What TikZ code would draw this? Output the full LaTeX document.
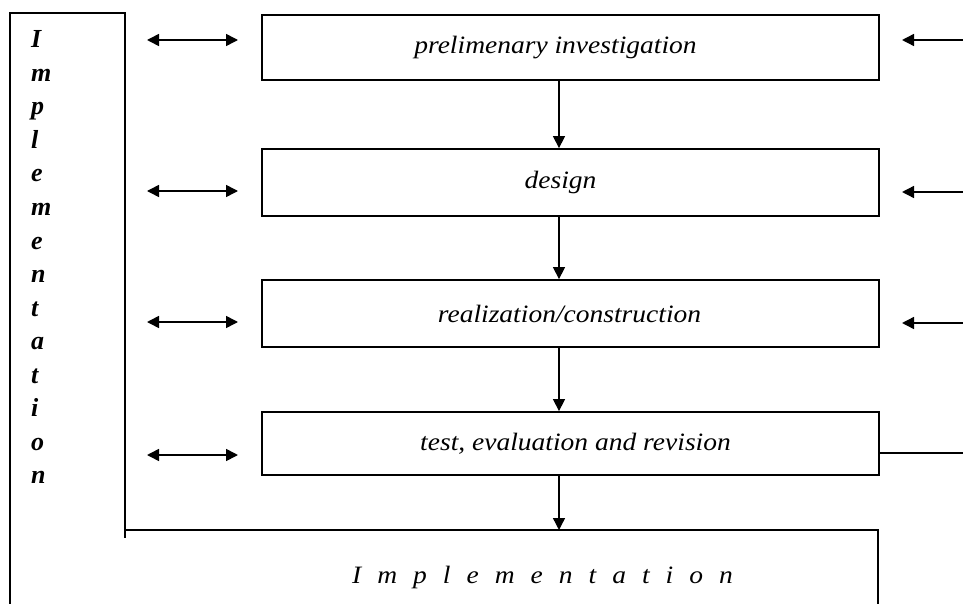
\documentclass[tikz,border=0pt]{standalone}
\usepackage{fontspec}
\setmainfont{Liberation Serif}
\newfontfamily\boxfont[FakeStretch=1.1]{Liberation Serif}
\usetikzlibrary{arrows.meta}
\newcommand\lsp{\hspace{16pt}}
\begin{document}
\begin{tikzpicture}[x=1pt,y=-1pt,
  stepbox/.style={draw, line width=1.8pt, minimum width=617pt, inner sep=0pt,
    font=\boxfont\itshape\fontsize{25}{25}\selectfont},
  flow/.style={line width=1.4pt, -{Triangle[length=12pt,width=12pt]}},
  both/.style={line width=1.6pt, {Triangle[length=12pt,width=12pt]}-{Triangle[length=12pt,width=12pt]}},
  frame/.style={line width=1.8pt},
  plain/.style={line width=1.4pt},
  vletter/.style={anchor=base west, inner sep=0pt,
    font=\bfseries\itshape\fontsize{26}{26}\selectfont}]
\useasboundingbox[fill=white] (0,0) rectangle (963,604);

% boxes
\node[stepbox, minimum height=65pt] (b1) at (570.5,47.5) {\hspace*{-30pt}prelimenary investigation};
\node[stepbox, minimum height=67pt] (b2) at (570.5,182.5) {\hspace*{-20pt}design};
\node[stepbox, minimum height=67pt] (b3) at (570.5,313.5) {\hspace*{-2pt}realization/construction};
\node[stepbox, minimum height=63pt] (b4) at (570.5,443.5) {test, evaluation and revision\hspace*{-10pt}};

% frame of Implementation
\draw[frame] (10,604) -- (10,13) -- (125,13) -- (125,538);
\draw[frame] (125,530) -- (878,530) -- (878,604);

% vertical letters
\foreach \l [count=\i from 0] in {I,m,p,l,e,m,e,n,t,a,t,i,o,n}
  \node[vletter] (v\i) at (31,48+33.5*\i) {\l};

% bottom label
\node[anchor=base, inner sep=0pt, font=\boxfont\itshape\fontsize{25}{25}\selectfont] (impl) at (542.5,583)
  {I\lsp m\lsp p\lsp l\lsp e\lsp m\lsp e\lsp n\lsp t\lsp a\lsp t\lsp i\lsp o\lsp n};

% down arrows
\coordinate (ax) at (559,0);
\coordinate (itop) at (559,530);
\draw[flow] (b1.south -| ax) -- (b2.north -| ax);
\draw[flow] (b2.south -| ax) -- (b3.north -| ax);
\draw[flow] (b3.south -| ax) -- (b4.north -| ax);
\draw[flow] (b4.south -| ax) -- (itop);

% left double arrows
\foreach \y [count=\k] in {40,191,322,455} {
  \coordinate (la\k) at (147,\y);
  \coordinate (lb\k) at (238,\y);
  \draw[both] (la\k) -- (lb\k);
}

% right arrows
\foreach \y [count=\k] in {40,192,323} {
  \coordinate (ra\k) at (963,\y);
  \coordinate (rb\k) at (902,\y);
  \draw[flow] (ra\k) -- (rb\k);
}
\coordinate (r4) at (963,453);
\draw[plain] (r4 -| b4.east) -- (r4);
\end{tikzpicture}
\end{document}
